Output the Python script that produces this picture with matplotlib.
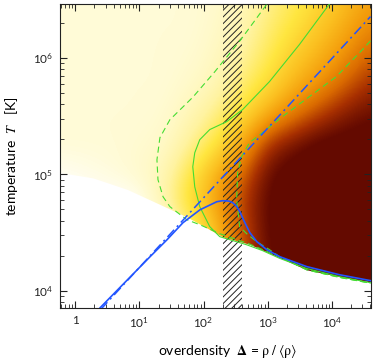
import numpy as np
import matplotlib.pyplot as plt
from matplotlib.colors import LinearSegmentedColormap
from matplotlib.ticker import LogLocator, NullFormatter

plt.rcParams['font.family'] = ['Lato', 'DejaVu Sans']
plt.rcParams['mathtext.fontset'] = 'stix'
plt.rcParams['hatch.linewidth'] = 0.7

# phase-space map: colour level (0 = empty, 1 = densest) on a grid of
# log10(overdensity) columns and log10(T) rows, rows listed from low to high T
grid_logdelta = [-0.2, 0.2, 0.6, 1.0, 1.4, 1.8, 2.2, 2.6, 3.0, 3.4, 3.8, 4.2, 4.6]
grid_logT = [3.75, 4.0, 4.25, 4.5, 4.75, 5.0, 5.25, 5.5, 5.75, 6.0, 6.25, 6.5]
grid_level = [
    [0, 0, 0, 0, 0, 0.30, 0.50, 0.75, 0.95, 1.05, 1.05, 1.05, 1.05],
    [0, 0, 0, 0, 0, 0.30, 0.50, 0.75, 0.95, 1.05, 1.05, 1.05, 1.05],
    [0, 0, 0, 0, 0, 0.30, 0.50, 0.78, 1.00, 1.05, 1.05, 1.05, 1.05],
    [0, 0, 0, 0, 0, 0.25, 0.48, 0.80, 1.02, 1.05, 1.05, 1.05, 1.05],
    [0, 0, 0, 0, 0.18, 0.40, 0.60, 0.84, 1.02, 1.05, 1.05, 1.05, 1.05],
    [0.02, 0.04, 0.06, 0.09, 0.15, 0.35, 0.55, 0.76, 1.00, 1.05, 1.05, 1.05, 1.05],
    [0.07, 0.07, 0.07, 0.08, 0.10, 0.22, 0.36, 0.58, 0.88, 0.98, 1.05, 1.05, 1.05],
    [0.07, 0.07, 0.07, 0.07, 0.08, 0.15, 0.25, 0.40, 0.58, 0.72, 0.85, 0.95, 1.00],
    [0.07, 0.07, 0.07, 0.07, 0.07, 0.10, 0.15, 0.28, 0.40, 0.55, 0.65, 0.78, 0.90],
    [0.07, 0.07, 0.07, 0.07, 0.07, 0.08, 0.12, 0.20, 0.32, 0.45, 0.55, 0.65, 0.78],
    [0.07, 0.07, 0.07, 0.07, 0.07, 0.07, 0.10, 0.16, 0.27, 0.37, 0.47, 0.57, 0.68],
    [0.07, 0.07, 0.07, 0.07, 0.07, 0.07, 0.09, 0.13, 0.23, 0.31, 0.40, 0.50, 0.60],
]

# lower edge of the populated region
edge_delta = [0.55, 1.9, 6.5, 21, 55, 200, 525, 1550, 4070, 1.32e4, 4.0e4]
edge_T = [1.04e5, 9.3e4, 7.4e4, 5.5e4, 4.3e4, 2.9e4, 2.5e4, 1.92e4, 1.51e4, 1.32e4, 1.19e4]

# blue solid curve
blue_delta = [2.45, 14.7, 27.0, 47.9, 87.9, 161, 200, 250, 286, 328, 368, 441, 527,
              676, 968, 1540, 4060, 1.32e4, 4.0e4]
blue_T = [7.14e3, 1.96e4, 2.74e4, 3.84e4, 4.95e4, 5.81e4, 5.93e4, 5.88e4, 5.69e4,
          5.3e4, 4.76e4, 3.84e4, 3.15e4, 2.64e4, 2.25e4, 1.96e4, 1.61e4, 1.37e4, 1.22e4]

# blue dash-dot power law
pl_delta = [2.5, 4.0e4]
pl_T = [6.9e3, 2.26e6]

# green solid curve
gs_delta = [9250, 3120, 1067, 406, 229, 125, 87.3, 73, 68, 73, 87.3, 125, 179, 470,
            830, 1520, 4060, 1.32e4, 4.0e4]
gs_T = [2.92e6, 1.30e6, 6.25e5, 3.59e5, 2.83e5, 2.42e5, 1.98e5, 1.53e5, 1.16e5,
        7.8e4, 5.27e4, 3.55e4, 2.91e4, 2.48e4, 2.21e4, 1.90e4, 1.55e4, 1.32e4, 1.17e4]

# green dashed curves
gd1_delta = [957, 380, 150, 68.4, 29.9, 20.9, 18.8, 19.5, 23.4, 29.9, 54.8, 87.3,
             179, 525, 1550, 4070, 1.32e4, 4.0e4]
gd1_T = [2.86e6, 1.43e6, 7.6e5, 4.6e5, 2.94e5, 2.06e5, 1.33e5, 8.99e4, 6.41e4,
         5.27e4, 4.07e4, 3.69e4, 3.09e4, 2.51e4, 1.95e4, 1.51e4, 1.30e4, 1.16e4]
gd2_delta = [4.0e4, 2.97e4, 1.17e4, 4460, 1700, 830, 521, 392, 340, 328, 365, 469,
             670, 1067, 1550, 4070, 1.32e4, 4.0e4]
gd2_T = [1.4e6, 1.17e6, 6.89e5, 4.64e5, 3.13e5, 2.28e5, 1.87e5, 1.42e5, 1.03e5,
         6.06e4, 3.55e4, 3.09e4, 2.64e4, 2.25e4, 1.95e4, 1.51e4, 1.30e4, 1.16e4]

# hatched overdensity band
band_delta = [200, 400]

xlim = (0.58, 4.0e4)
ylim = (7.1e3, 2.9e6)
xtick_vals = [1, 10, 100, 1e3, 1e4]
xtick_labels = ['1', r'$\mathregular{10^{1}}$', r'$\mathregular{10^{2}}$',
                r'$\mathregular{10^{3}}$', r'$\mathregular{10^{4}}$']
ytick_vals = [1e4, 1e5, 1e6]
ytick_labels = [r'$\mathregular{10^{4}}$', r'$\mathregular{10^{5}}$', r'$\mathregular{10^{6}}$']

cmap = LinearSegmentedColormap.from_list('phase', [
    (0.00, '#ffffff'), (0.07, '#fffbd5'), (0.20, '#fff3a0'), (0.35, '#ffe640'),
    (0.50, '#fbbf20'), (0.62, '#f39a0a'), (0.75, '#da6a00'), (0.87, '#a83000'),
    (1.00, '#640a00')])
cmap.set_under('#ffffff')
cmap.set_over('#640a00')

fig = plt.figure(figsize=(3.74, 3.59), dpi=100)
rect = [60 / 374, 1 - 308 / 359, 310.5 / 374, 304 / 359]

hx = (grid_logdelta[1] - grid_logdelta[0]) / 2
hy = (grid_logT[1] - grid_logT[0]) / 2
ax_img = fig.add_axes(rect)
ax_img.imshow(np.array(grid_level), origin='lower', cmap=cmap, vmin=0, vmax=1,
              interpolation='bicubic', aspect='auto',
              extent=[grid_logdelta[0] - hx, grid_logdelta[-1] + hx,
                      grid_logT[0] - hy, grid_logT[-1] + hy])
ax_img.set_xlim(np.log10(xlim))
ax_img.set_ylim(np.log10(ylim))
ax_img.axis('off')

ax = fig.add_axes(rect)
ax.patch.set_visible(False)
ax.set_xscale('log')
ax.set_yscale('log')

ax.fill_between(edge_delta, edge_T, 1e3, color='white', lw=0, zorder=1)
ax.axvspan(band_delta[0], band_delta[1], facecolor='none', edgecolor='#222222',
           hatch='/////', lw=0, zorder=2)

green = '#44dd33'
blue = '#2255ff'
ax.plot(gd1_delta, gd1_T, color=green, lw=0.8, dashes=(5.5, 3.5), zorder=3)
ax.plot(gd2_delta, gd2_T, color=green, lw=0.8, dashes=(5.5, 3.5), zorder=3)
ax.plot(gs_delta, gs_T, color=green, lw=0.8, zorder=3)
ax.plot(pl_delta, pl_T, color=blue, lw=1.1, dashes=(6.4, 2.6, 1.3, 2.6), zorder=4)
ax.plot(blue_delta, blue_T, color=blue, lw=1.2, zorder=4)

ax.set_xlim(xlim)
ax.set_ylim(ylim)
ax.set_xticks(xtick_vals, xtick_labels)
ax.set_yticks(ytick_vals, ytick_labels)
for axis in (ax.xaxis, ax.yaxis):
    axis.set_minor_locator(LogLocator(base=10, subs=(2, 3, 4, 5, 6, 7, 8, 9), numticks=20))
    axis.set_minor_formatter(NullFormatter())
ax.tick_params(which='both', direction='in', top=True, right=True, labelsize=8.5,
               colors='#222222')
ax.tick_params(which='major', length=5, width=0.8, pad=5)
ax.tick_params(which='minor', length=2.8, width=0.6)
for s in ax.spines.values():
    s.set_linewidth(0.8)
    s.set_color('#222222')

ax.set_xlabel('overdensity  ' + r'$\mathbf{\Delta}$ = $\mathrm{\rho}\;/\;\langle\mathrm{\rho}\rangle$',
              fontsize=10)
ax.set_ylabel('temperature  ' + r'$T$' + '   [K]', fontsize=10)
ax.xaxis.set_label_coords(0.54, -0.115)
ax.yaxis.set_label_coords(-0.128, 0.5)

fig.savefig('out.png', dpi=100)
